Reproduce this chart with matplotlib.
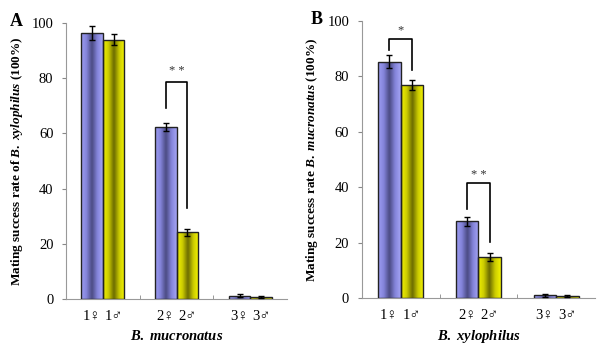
import numpy as np
import matplotlib
matplotlib.use("Agg")
import matplotlib.pyplot as plt
from matplotlib.colors import LinearSegmentedColormap

plt.rcParams['font.family'] = ['Liberation Serif', 'DejaVu Serif']
plt.rcParams['mathtext.fontset'] = 'custom'
plt.rcParams['mathtext.rm'] = 'Liberation Serif:bold'
plt.rcParams['mathtext.bf'] = 'Liberation Serif:bold'
plt.rcParams['mathtext.it'] = 'Liberation Serif:bold:italic'

groups = ["1", "2", "3"]
female_labels = ["1♀", "2♀", "3♀"]
male_labels = ["1♂", "2♂", "3♂"]

# Panel A
a_female = [96.5, 62.2, 1.2]
a_female_err = [2.5, 1.5, 0.5]
a_male = [94.0, 24.2, 0.8]
a_male_err = [2.0, 1.3, 0.4]
# Panel B
b_female = [85.3, 27.7, 1.1]
b_female_err = [2.3, 1.5, 0.5]
b_male = [76.8, 14.9, 0.8]
b_male_err = [1.8, 1.3, 0.4]

blue_cmap = LinearSegmentedColormap.from_list("b", ["#9c9cf2", "#8484da", "#4a4a82", "#8484da", "#a4a4f4"])
yel_cmap = LinearSegmentedColormap.from_list("y", ["#f0f000", "#cccc00", "#6a6a00", "#cccc00", "#f4f400"])

def gradient_bars(ax, bars, cmap):
    grad = np.linspace(0, 1, 64).reshape(1, -1)
    for b in bars:
        x0, y0 = b.get_x(), b.get_y()
        w, h = b.get_width(), b.get_height()
        im = ax.imshow(grad, cmap=cmap, extent=[x0, x0 + w, y0, y0 + h],
                       aspect='auto', zorder=2, interpolation='bicubic')
        im.set_clip_path(b)
    ax.set_aspect('auto')

def panel(ax, fem, fem_err, mal, mal_err, panel_letter, letter_x, ylabel, xlabel, brackets):
    x = np.arange(len(groups))
    w = 0.29
    bf = ax.bar(x - w / 2, fem, w, color='none', edgecolor='#222222', linewidth=1.0, zorder=3)
    bm = ax.bar(x + w / 2, mal, w, color='none', edgecolor='#222222', linewidth=1.0, zorder=3)
    gradient_bars(ax, bf, blue_cmap)
    gradient_bars(ax, bm, yel_cmap)
    ax.errorbar(x - w / 2, fem, yerr=fem_err, fmt='none', ecolor='black', elinewidth=1.0, capsize=2.5, capthick=1.0, zorder=4)
    ax.errorbar(x + w / 2, mal, yerr=mal_err, fmt='none', ecolor='black', elinewidth=1.0, capsize=2.5, capthick=1.0, zorder=4)
    ax.set_xlim(-0.5, 2.5)
    ax.set_ylim(0, 100)
    ax.set_yticks([0, 20, 40, 60, 80, 100])
    ax.tick_params(axis='y', direction='out', length=3, color='#888888', labelsize=10.5, pad=6)
    pos = np.concatenate([x - w / 2, x + w / 2])
    labs = female_labels + male_labels
    ax.set_xticks(pos, labs)
    ax.set_xticks([0.5, 1.5], minor=True)
    ax.tick_params(axis='x', which='major', length=0, labelsize=10.5, pad=8)
    ax.tick_params(axis='x', which='minor', length=3, direction='in', color='#888888')
    for s in ['top', 'right']:
        ax.spines[s].set_visible(False)
    for s in ['left', 'bottom']:
        ax.spines[s].set_color('#999999')
        ax.spines[s].set_linewidth(0.8)
    ax.set_ylabel(ylabel, fontsize=9.5, fontweight='bold', labelpad=5)
    ax.set_xlabel(xlabel, fontsize=10.5, labelpad=4)
    ax.text(letter_x, 1.005, panel_letter, transform=ax.transAxes, fontsize=13, fontweight='bold', va='center', ha='center')
    for (g, top, lf, rt, star, sy) in brackets:
        xl, xr = g - w / 2, g + w / 2
        ax.plot([xl, xl, xr, xr], [lf, top, top, rt], color='black', lw=1.2, zorder=5)
        ax.text(g, sy, star, ha='center', va='center', fontsize=9, color='#333333')

fig = plt.figure(figsize=(6.11, 3.59), dpi=100)
axA = fig.add_axes([0.108, 0.167, 0.362, 0.769])
axB = fig.add_axes([0.592, 0.169, 0.382, 0.773])

panel(axA, a_female, a_female_err, a_male, a_male_err, "A", -0.225,
      r"Mating success rate of $B.$ $xylophilus$ (100%)", r"$B.$ $mucronatus$",
      [(1, 78.6, 69.2, 33.0, "* *", 82.5)])
panel(axB, b_female, b_female_err, b_male, b_male_err, "B", -0.195,
      r"Mating success rate $B.$ $mucronatus$ (100%)", r"$B.$ $xylophilus$",
      [(0, 93.3, 89.4, 82.2, "*", 96.5), (1, 41.6, 32.2, 20.4, "* *", 44.5)])

fig.savefig("out.png", dpi=100)
